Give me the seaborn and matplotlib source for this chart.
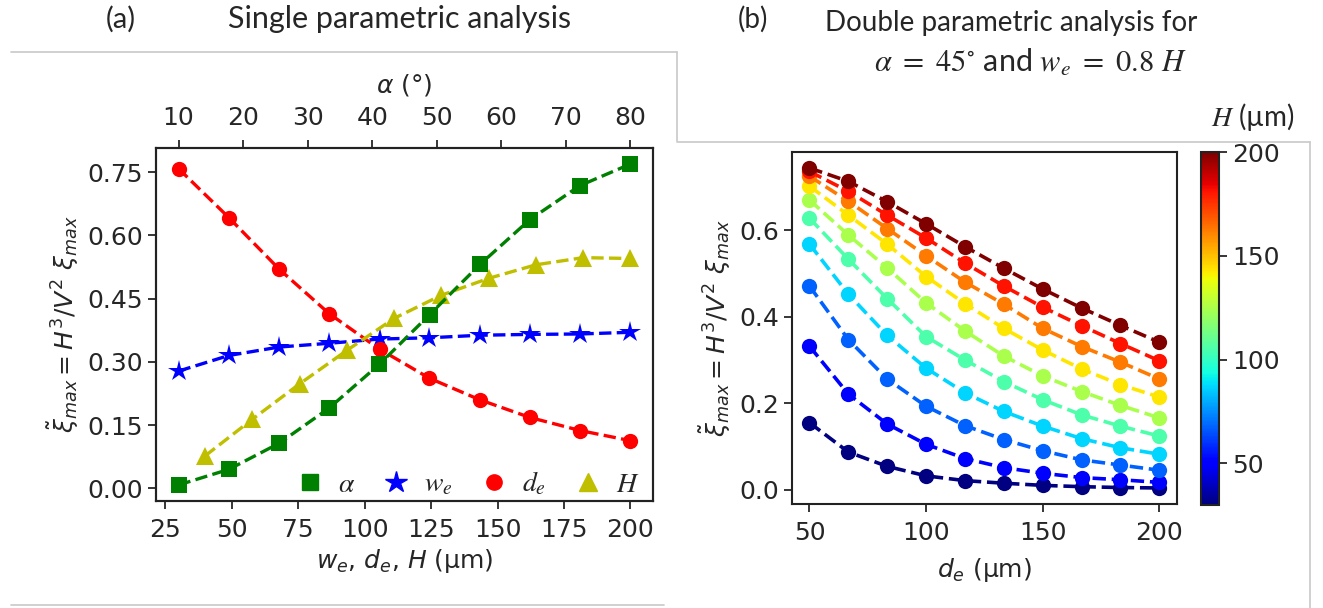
import numpy as np
import pandas as pd
import matplotlib
matplotlib.use("Agg")
import matplotlib.pyplot as plt
from matplotlib.lines import Line2D
import seaborn as sns

# =========================
# DATA - panel (a)
# =========================
we_um = [30, 48.9, 67.8, 86.7, 105.6, 124.4, 143.3, 162.2, 181.1, 200]
de_um = [30, 48.9, 67.8, 86.7, 105.6, 124.4, 143.3, 162.2, 181.1, 200]
H_um = [40, 57.8, 75.6, 93.3, 111.1, 128.9, 146.7, 164.4, 182.2, 200]
alpha_deg = [10, 17.8, 25.6, 33.3, 41.1, 48.9, 56.7, 64.4, 72.2, 80]

xi_alpha = [0.008, 0.045, 0.107, 0.190, 0.294, 0.412, 0.531, 0.637, 0.718, 0.769]
xi_we = [0.278, 0.315, 0.335, 0.344, 0.354, 0.357, 0.363, 0.365, 0.366, 0.370]
xi_de = [0.758, 0.642, 0.520, 0.414, 0.330, 0.261, 0.210, 0.168, 0.137, 0.113]
xi_H = [0.077, 0.164, 0.248, 0.327, 0.403, 0.458, 0.498, 0.530, 0.547, 0.545]

# =========================
# DATA - panel (b)
# =========================
de_grid = [50, 66.7, 83.3, 100, 116.7, 133.3, 150, 166.7, 183.3, 200]
H_levels = [30, 48.9, 67.8, 86.7, 105.6, 124.4, 143.3, 162.2, 181.1, 200]

xi_H30 = [0.155, 0.087, 0.054, 0.032, 0.021, 0.015, 0.010, 0.007, 0.005, 0.004]
xi_H49 = [0.332, 0.221, 0.152, 0.105, 0.072, 0.051, 0.038, 0.028, 0.023, 0.017]
xi_H68 = [0.471, 0.347, 0.256, 0.193, 0.148, 0.116, 0.090, 0.069, 0.057, 0.045]
xi_H87 = [0.568, 0.452, 0.357, 0.281, 0.224, 0.181, 0.147, 0.118, 0.097, 0.082]
xi_H106 = [0.628, 0.533, 0.442, 0.354, 0.300, 0.250, 0.208, 0.173, 0.147, 0.124]
xi_H124 = [0.670, 0.589, 0.513, 0.432, 0.367, 0.309, 0.263, 0.227, 0.195, 0.166]
xi_H143 = [0.702, 0.635, 0.568, 0.493, 0.430, 0.373, 0.323, 0.279, 0.243, 0.214]
xi_H162 = [0.725, 0.667, 0.604, 0.541, 0.480, 0.429, 0.373, 0.331, 0.295, 0.256]
xi_H181 = [0.736, 0.690, 0.635, 0.582, 0.524, 0.471, 0.422, 0.379, 0.338, 0.298]
xi_H200 = [0.744, 0.713, 0.666, 0.615, 0.562, 0.512, 0.464, 0.420, 0.380, 0.341]

xi_curves = [xi_H30, xi_H49, xi_H68, xi_H87, xi_H106,
             xi_H124, xi_H143, xi_H162, xi_H181, xi_H200]

rows = []
for h, curve in zip(H_levels, xi_curves):
    for d, v in zip(de_grid, curve):
        rows.append({"H": h, "de": d, "xi": v})
df_b = pd.DataFrame(rows)

# =========================
# STYLE
# =========================
sns.set_style("ticks")
plt.rcParams["font.family"] = ["DejaVu Sans"]
plt.rcParams["mathtext.fontset"] = "dejavusans"
plt.rcParams["axes.edgecolor"] = "#222222"
plt.rcParams["axes.linewidth"] = 1.5
plt.rcParams["xtick.major.width"] = 1.3
plt.rcParams["ytick.major.width"] = 1.3
plt.rcParams["xtick.major.size"] = 6
plt.rcParams["ytick.major.size"] = 6

FS = 18
ylab = r"$\tilde{\xi}_{max} = H^3/V^2\ \xi_{max}$"
jet = plt.get_cmap("jet")

fig = plt.figure(figsize=(13.23, 6.08), dpi=100)

# =========================
# PANEL (a)
# =========================
ax1 = fig.add_axes([0.1179, 0.1760, 0.3757, 0.5806])

sns.lineplot(x=we_um, y=xi_we, ax=ax1, color="b", linestyle="--", lw=2.4,
             marker="*", markersize=16, markeredgewidth=0)
sns.lineplot(x=de_um, y=xi_de, ax=ax1, color="r", linestyle="--", lw=2.4,
             marker="o", markersize=11, markeredgewidth=0)
sns.lineplot(x=H_um, y=xi_H, ax=ax1, color="y", linestyle="--", lw=2.4,
             marker="^", markersize=13, markeredgewidth=0)

ax1.set_yticks([0.0, 0.15, 0.30, 0.45, 0.60, 0.75])
ax1.set_yticklabels(["0.00", "0.15", "0.30", "0.45", "0.60", "0.75"])
ax1.set_xticks([25, 50, 75, 100, 125, 150, 175, 200])
ax1.tick_params(labelsize=FS)
ax1.tick_params(axis="x", pad=6)
ax1.set_xlabel(r"$w_e$, $d_e$, $H$ (µm)", fontsize=FS)
ax1.set_ylabel(ylab, fontsize=FS)

ax1t = ax1.twiny()
sns.lineplot(x=alpha_deg, y=xi_alpha, ax=ax1t, color="g", linestyle="--", lw=2.4,
             marker="s", markersize=11, markeredgewidth=0)
ax1t.set_xticks([10, 20, 30, 40, 50, 60, 70, 80])
ax1t.tick_params(labelsize=FS, pad=7)
ax1t.set_xlabel(r"$\alpha$ (°)", fontsize=FS, labelpad=10)
ax1t.set_ylim(ax1.get_ylim())

handles = [
    Line2D([], [], color="g", marker="s", linestyle="none", markersize=11),
    Line2D([], [], color="b", marker="*", linestyle="none", markersize=16),
    Line2D([], [], color="r", marker="o", linestyle="none", markersize=11),
    Line2D([], [], color="y", marker="^", linestyle="none", markersize=13),
]
leg = ax1t.legend(handles, [r"$\alpha$", r"$w_e$", r"$d_e$", r"$H$"],
                  loc="lower right", bbox_to_anchor=(1.0, -0.03), ncol=4,
                  frameon=False, fontsize=FS + 2, handlelength=1.0,
                  handletextpad=0.5, columnspacing=1.0, borderaxespad=0.1)
for t in leg.get_texts():
    t.set_math_fontfamily("stix")

# =========================
# PANEL (b)
# =========================
ax2 = fig.add_axes([0.5986, 0.1711, 0.2910, 0.5789])
sns.lineplot(data=df_b, x="de", y="xi", hue="H", palette=jet,
             hue_norm=(30, 200), ax=ax2, legend=False,
             linestyle="--", lw=2.6, marker="o", markersize=11,
             markeredgewidth=0)
ax2.set_xticks([50, 100, 150, 200])
ax2.set_yticks([0.0, 0.2, 0.4, 0.6])
ax2.tick_params(labelsize=FS)
ax2.tick_params(axis="x", pad=6)
ax2.set_xlabel(r"$d_e$ (µm)", fontsize=FS, labelpad=8)
ax2.set_ylabel(ylab, fontsize=FS)

cax = fig.add_axes([0.9078, 0.1694, 0.0136, 0.5806])
sm = plt.cm.ScalarMappable(cmap=jet, norm=plt.Normalize(30, 200))
cb = fig.colorbar(sm, cax=cax, ticks=[50, 100, 150, 200])
cb.ax.tick_params(labelsize=FS)
cb.outline.set_linewidth(1.5)

# =========================
# TITLES / DOCUMENT TEXT
# =========================
fig.text(0.091, 0.968, "(a)", fontsize=21, family="Lato", ha="center", va="center")
fig.text(0.302, 0.968, "Single parametric analysis", fontsize=22,
         family="Lato", ha="center", va="center")
fig.text(0.569, 0.968, "(b)", fontsize=20, family="Lato", ha="center", va="center")
fig.text(0.764, 0.962, "Double parametric analysis for", fontsize=20,
         family="Lato", ha="center", va="center")
fig.text(0.779, 0.898, r"$\alpha\ =\ 45^{\circ}$ and $w_e\ =\ 0.8\ H$",
         fontsize=22, family="Lato", math_fontfamily="stix",
         ha="center", va="center")
fig.text(0.947, 0.808, r"$H$ (µm)", fontsize=20, family="Lato",
         math_fontfamily="stix", ha="center", va="center")

# light frame lines of the pasted panels
gray = "#c8c8c8"
fig.add_artist(Line2D([0.008, 0.512], [0.914, 0.914], color=gray, lw=1.2))
fig.add_artist(Line2D([0.512, 0.512], [0.914, 0.768], color=gray, lw=1.2))
fig.add_artist(Line2D([0.008, 0.502], [0.005, 0.005], color=gray, lw=1.2))
fig.add_artist(Line2D([0.512, 0.990], [0.767, 0.767], color=gray, lw=1.2))
fig.add_artist(Line2D([0.990, 0.990], [0.767, 0.0], color=gray, lw=1.2))

fig.savefig("out.png", dpi=100)
